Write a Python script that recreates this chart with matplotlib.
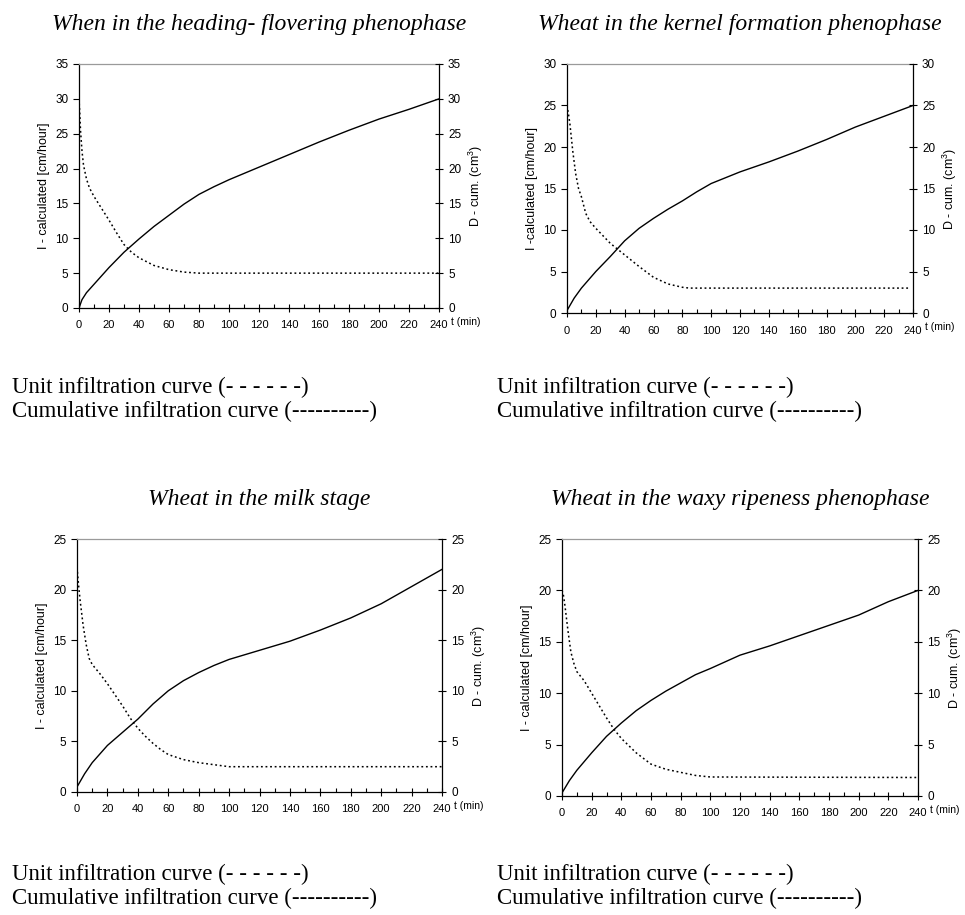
import matplotlib
matplotlib.use("Agg")
import matplotlib.pyplot as plt
from matplotlib.ticker import MultipleLocator
from matplotlib.transforms import offset_copy

plt.rcParams['font.family'] = ['Liberation Sans', 'DejaVu Sans']
plt.rcParams['mathtext.default'] = 'regular'

# --- data ---
titles = ["When in the heading- flovering phenophase",
          "Wheat in the kernel formation phenophase",
          "Wheat in the milk stage",
          "Wheat in the waxy ripeness phenophase"]
ylabels = ["I - calculated [cm/hour]", "I -calculated [cm/hour]",
           "I - calculated [cm/hour]", "I - calculated [cm/hour]"]
ymax = [35, 30, 25, 25]
xticks = list(range(0, 241, 20))

# cumulative infiltration (solid)
t_cum1 = [0, 2, 5, 10, 20, 30, 40, 50, 60, 70, 80, 90, 100, 110, 120, 140, 160, 180, 200, 220, 240]
cum1 = [0, 1.2, 2.2, 3.4, 5.8, 8.0, 9.9, 11.7, 13.3, 14.9, 16.3, 17.4, 18.4, 19.3, 20.2, 22.0, 23.8, 25.5, 27.1, 28.5, 30.0]
t_cum2 = [0, 5, 10, 15, 20, 30, 40, 50, 60, 70, 80, 90, 100, 110, 120, 140, 160, 180, 200, 220, 240]
cum2 = [0.3, 1.8, 3.0, 4.0, 5.0, 6.8, 8.7, 10.2, 11.4, 12.5, 13.5, 14.6, 15.6, 16.3, 17.0, 18.2, 19.5, 20.9, 22.4, 23.7, 25.0]
t_cum3 = [0, 5, 10, 20, 30, 40, 50, 60, 70, 80, 90, 100, 120, 140, 160, 180, 200, 220, 240]
cum3 = [0.5, 1.8, 2.9, 4.6, 5.9, 7.2, 8.7, 10.0, 11.0, 11.8, 12.5, 13.1, 14.0, 14.9, 16.0, 17.2, 18.6, 20.3, 22.0]
t_cum4 = [0, 5, 10, 20, 30, 40, 50, 60, 70, 80, 90, 100, 120, 140, 160, 180, 200, 220, 240]
cum4 = [0.3, 1.5, 2.5, 4.2, 5.8, 7.1, 8.3, 9.3, 10.2, 11.0, 11.8, 12.4, 13.7, 14.6, 15.6, 16.6, 17.6, 18.9, 20.0]

# unit infiltration (dotted)
t_unit1 = [0, 0.5, 1, 2, 3, 5, 7, 10, 15, 20, 25, 30, 35, 40, 50, 60, 70, 80, 240]
unit1 = [30, 28, 25.5, 22.5, 20.5, 18.5, 17.2, 16.0, 14.3, 12.6, 10.8, 9.1, 8.0, 7.2, 6.1, 5.5, 5.15, 5.0, 5.0]
t_unit2 = [0, 1, 2, 4, 6, 8, 10, 13, 16, 20, 30, 40, 50, 60, 70, 80, 85, 238]
unit2 = [25, 24, 22.8, 19.5, 16.8, 15.0, 14.0, 12.0, 11.0, 10.2, 8.4, 7.0, 5.6, 4.3, 3.5, 3.1, 3.0, 3.0]
t_unit3 = [0, 1, 2, 4, 6, 8, 10, 15, 20, 25, 30, 35, 40, 45, 50, 55, 60, 70, 80, 90, 100, 240]
unit3 = [22.2, 20.5, 19.0, 16.5, 14.6, 13.2, 12.6, 11.7, 10.7, 9.6, 8.5, 7.3, 6.3, 5.5, 4.8, 4.2, 3.7, 3.2, 2.9, 2.7, 2.5, 2.5]
t_unit4 = [0, 1, 2, 3, 4, 6, 8, 10, 15, 20, 30, 35, 40, 50, 60, 70, 80, 90, 100, 240]
unit4 = [20, 19.5, 18.5, 17.3, 16.1, 14.0, 12.9, 12.1, 11.2, 10.0, 7.6, 6.5, 5.6, 4.2, 3.1, 2.6, 2.3, 2.0, 1.85, 1.8]

cum_t = [t_cum1, t_cum2, t_cum3, t_cum4]
cum_v = [cum1, cum2, cum3, cum4]
unit_t = [t_unit1, t_unit2, t_unit3, t_unit4]
unit_v = [unit1, unit2, unit3, unit4]

W, H = 965, 915
# axes boxes in pixels: left, top, right, bottom
boxes = [(79, 64, 439, 308), (567, 64, 913, 313),
         (77, 539, 442, 792), (562, 539, 918, 796)]

fig = plt.figure(figsize=(W / 100, H / 100), dpi=100)

for i in range(4):
    l, t, r, b = boxes[i]
    ax = fig.add_axes([l / W, 1 - b / H, (r - l) / W, (b - t) / H])
    ax.plot(cum_t[i], cum_v[i], color='black', lw=1.0)
    ax.plot(unit_t[i], unit_v[i], color='black', lw=1.1, linestyle=(0, (1.2, 1.8)))
    ax.set_xlim(0, 240)
    ax.set_ylim(0, ymax[i])
    ax.set_xticks(xticks)
    ax.xaxis.set_minor_locator(MultipleLocator(10))
    ax.yaxis.set_major_locator(MultipleLocator(5))
    ax.tick_params(axis='x', which='major', direction='inout', length=6, width=0.8, labelsize=8, pad=6)
    ax.tick_params(axis='x', which='minor', direction='in', length=3, width=0.8)
    ax.tick_params(axis='y', direction='out', length=4, width=0.8, labelsize=8.5)
    ax.set_ylabel(ylabels[i], fontsize=9)
    for s in ['left', 'bottom', 'right']:
        ax.spines[s].set_color('black')
        ax.spines[s].set_linewidth(0.9)
    ax.spines['top'].set_color('#9a9a9a')
    ax.spines['top'].set_linewidth(0.9)

    ax2 = ax.twinx()
    ax2.set_ylim(0, ymax[i])
    ax2.yaxis.set_major_locator(MultipleLocator(5))
    ax2.tick_params(axis='y', direction='inout', length=6, width=0.8, labelsize=8.5)
    ax2.set_ylabel("D - cum. (cm$^3$)", fontsize=9)
    for s in ax2.spines.values():
        s.set_visible(False)

    # "t (min)" sits just right of the last x tick label
    tr = offset_copy(ax.transAxes, fig=fig, x=12, y=-9, units='dots')
    ax.text(1.0, 0.0, "t (min)", transform=tr, fontsize=7.5, va='top', ha='left')

    fig.text((l + r) / 2 / W, 1 - (t - 34) / H, titles[i], ha='center', va='baseline',
             family='Liberation Serif', style='italic', fontsize=17)

captions = ["Unit infiltration curve (- - - - - -)",
            "Cumulative infiltration curve (----------)"]
cap_pos = [(12, 393), (497, 393), (12, 880), (497, 880)]
for x, y in cap_pos:
    for k, c in enumerate(captions):
        fig.text(x / W, 1 - (y + 24 * k) / H, c, ha='left', va='baseline',
                 family='Liberation Serif', fontsize=16.5)

fig.savefig("out.png", dpi=100)
